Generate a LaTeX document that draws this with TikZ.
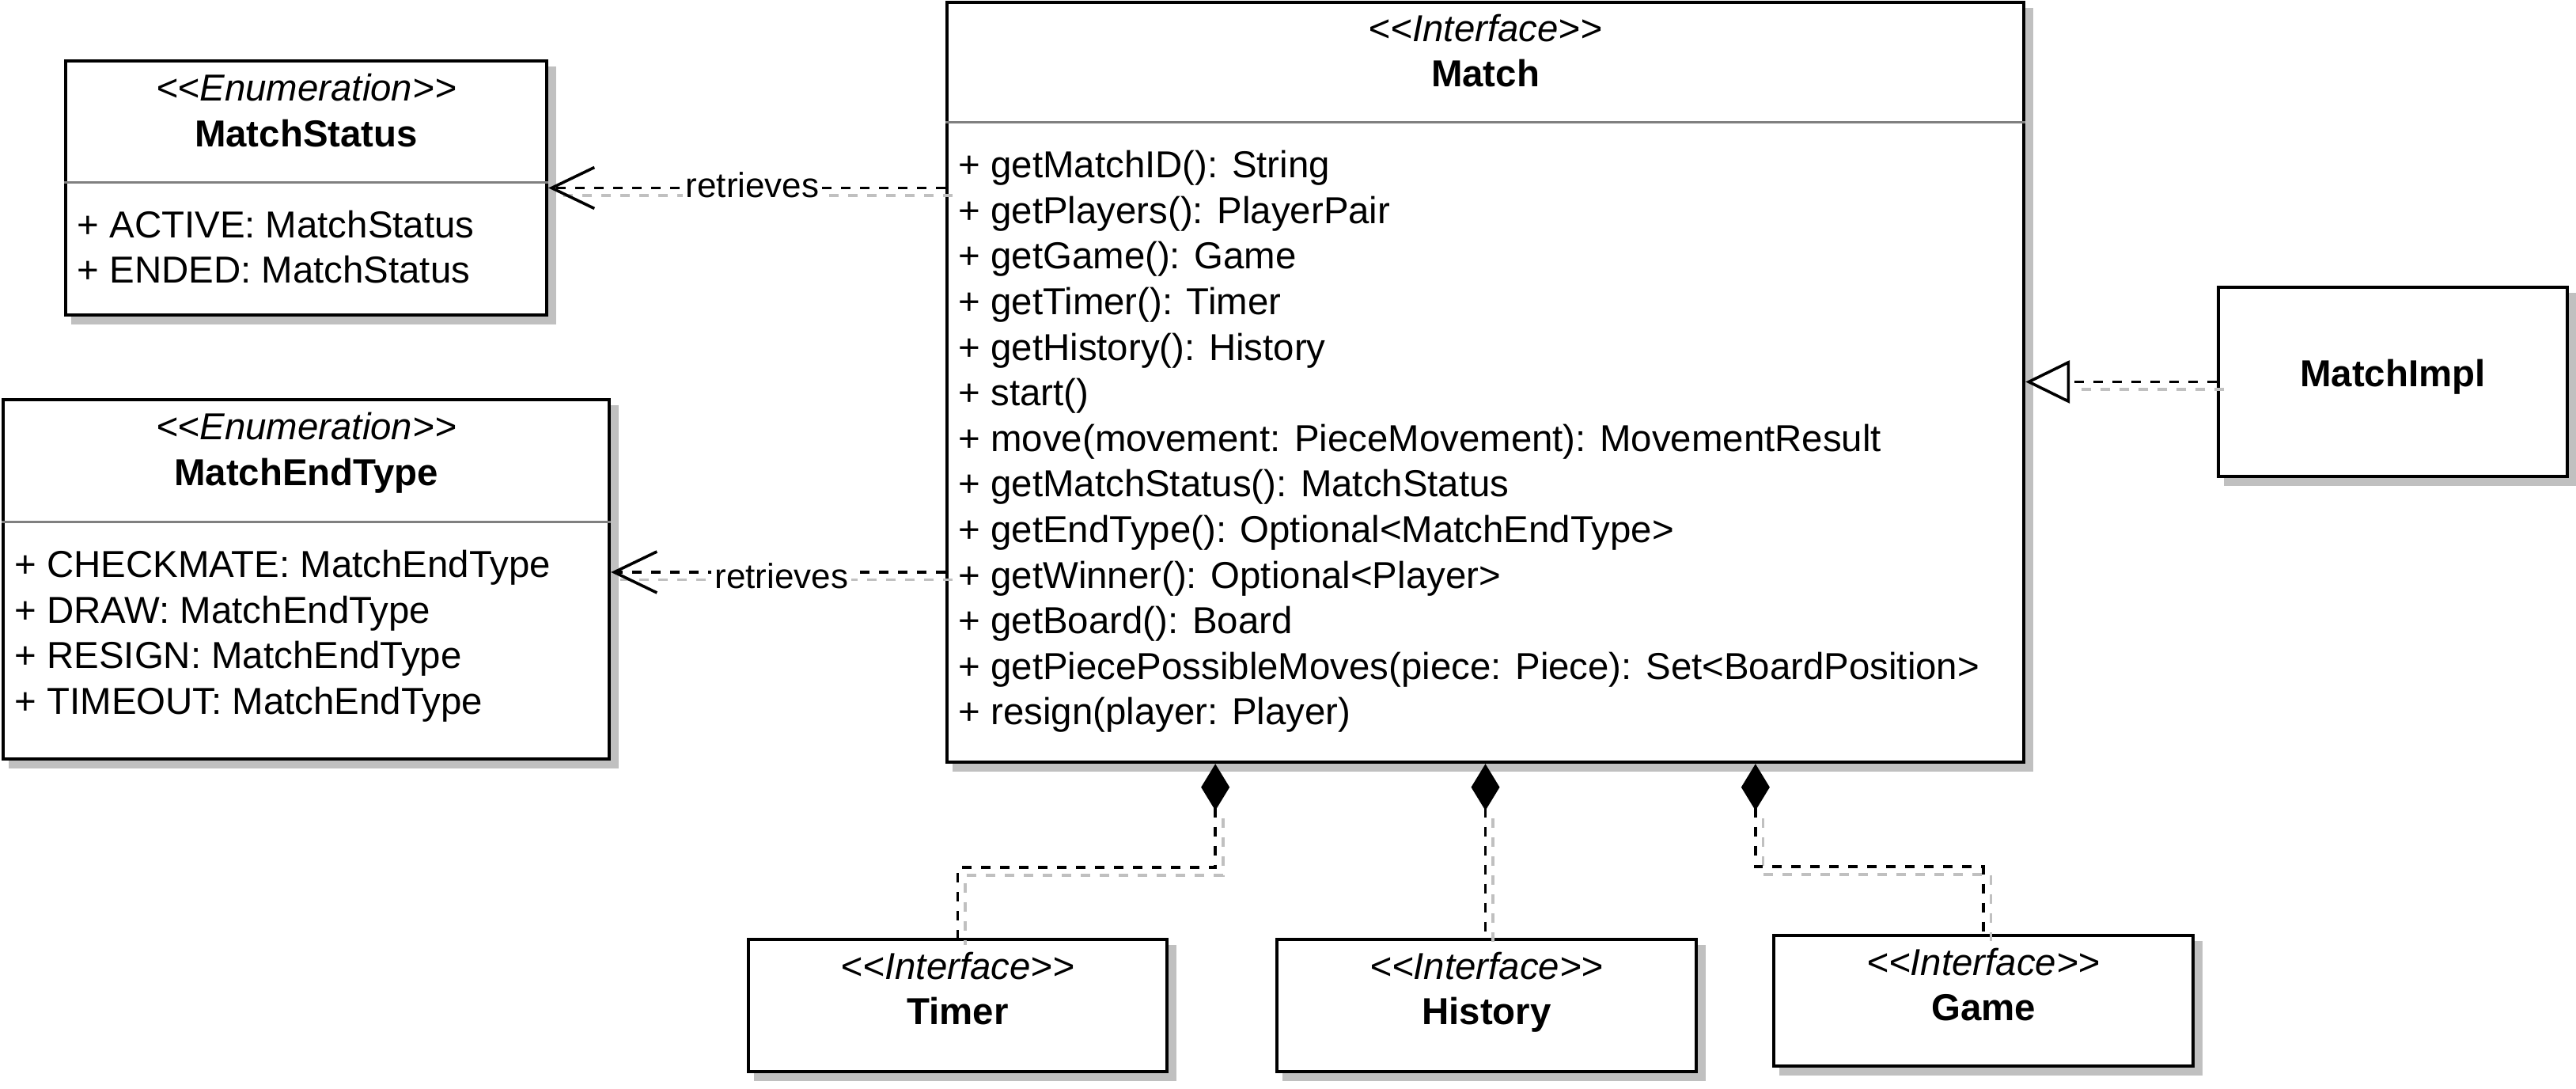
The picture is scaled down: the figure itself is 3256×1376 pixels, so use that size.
\documentclass[tikz,border=0pt]{standalone}
\usepackage{fontspec}
\newfontfamily\umlfont{Liberation Sans}
\usetikzlibrary{arrows.meta,shadows,fit,calc}
\definecolor{shcol}{RGB}{192,192,192}
\definecolor{divcol}{RGB}{128,128,128}
\begin{document}
\begin{tikzpicture}[x=0.25pt,y=-0.25pt,
  box/.style={draw=black, line width=1.1pt, fill=white, inner sep=0pt,
    drop shadow={shadow xshift=2.4pt, shadow yshift=-2.4pt, fill=shcol, draw=shcol, opacity=1}},
  stereo/.style={font=\umlfont\fontsize{11.85}{14}\selectfont\itshape, inner sep=0pt, anchor=base},
  cname/.style={font=\umlfont\fontsize{11.85}{14}\selectfont\bfseries, inner sep=0pt, anchor=base},
  attr/.style={font=\umlfont\fontsize{11.85}{14}\selectfont, inner sep=0pt, anchor=base west},
  divider/.style={draw=divcol, line width=0.85pt},
  conn/.style={line width=0.9pt, dash pattern=on 3pt off 3pt},
  connshadow/.style={conn, draw=shcol, transform canvas={shift={(2.4pt,-2.4pt)}}},
  lbl/.style={font=\umlfont\fontsize{11}{13}\selectfont, fill=white, inner xsep=1pt, inner ysep=1.5pt, anchor=base},
  dep/.style={conn, -{Straight Barb[length=13.5pt, width=13pt]}},
  real/.style={conn, -{Triangle[fill=white, length=14pt, width=13.5pt]}},
  comp/.style={conn, {Diamond[length=14.75pt, width=9pt]}-}
]
\useasboundingbox (0,0) rectangle (3256,1376);

% ---------- boxes ----------
\node[box, fit={(83,77) (691,398)}] (ms) {};
\node[box, fit={(4,505) (770,959)}] (met) {};
\node[box, fit={(1197,3) (2558,963)}] (match) {};
\node[box, fit={(2804,363) (3245,602)}] (impl) {};
\node[box, fit={(946,1187) (1475,1354)}] (timer) {};
\node[box, fit={(1614,1187) (2144,1354)}] (hist) {};
\node[box, fit={(2242,1182) (2772,1347)}] (game) {};

% ---------- dividers ----------
\draw[divider] ($(ms.north west)+(0,156)$) -- ($(ms.north east)+(0,156)$);
\draw[divider] ($(met.north west)+(0,157)$) -- ($(met.north east)+(0,157)$);
\draw[divider] ($(match.north west)+(0,154)$) -- ($(match.north east)+(0,154)$);

% ---------- MatchStatus ----------
\node[stereo] (ms-s) at ($(ms.north)+(0,53)$) {<<Enumeration>>};
\node[cname] (ms-n) at ($(ms.north)+(0,111)$) {MatchStatus};
\node[attr] (ms-a1) at ($(ms.north west)+(16,226)$) {+ ACTIVE: MatchStatus};
\node[attr] (ms-a2) at ($(ms.north west)+(16,283)$) {+ ENDED: MatchStatus};

% ---------- MatchEndType ----------
\node[stereo] (met-s) at ($(met.north)+(0,53)$) {<<Enumeration>>};
\node[cname] (met-n) at ($(met.north)+(0,111)$) {MatchEndType};
\node[attr] (met-a1) at ($(met.north west)+(16,227)$) {+ CHECKMATE: MatchEndType};
\node[attr] (met-a2) at ($(met.north west)+(16,284.6)$) {+ DRAW: MatchEndType};
\node[attr] (met-a3) at ($(met.north west)+(16,342.2)$) {+ RESIGN: MatchEndType};
\node[attr] (met-a4) at ($(met.north west)+(16,399.8)$) {+ TIMEOUT: MatchEndType};

% ---------- Match ----------
\node[stereo] (match-s) at ($(match.north)+(0,52)$) {<<Interface>>};
\node[cname] (match-n) at ($(match.north)+(0,109)$) {Match};
\foreach \t [count=\i from 0] in {
  {+ getMatchID(): String},
  {+ getPlayers(): PlayerPair},
  {+ getGame(): Game},
  {+ getTimer(): Timer},
  {+ getHistory(): History},
  {+ start()},
  {+ move(movement: PieceMovement): MovementResult},
  {+ getMatchStatus(): MatchStatus},
  {+ getEndType(): Optional<MatchEndType>},
  {+ getWinner(): Optional<Player>},
  {+ getBoard(): Board},
  {+ getPiecePossibleMoves(piece: Piece): Set<BoardPosition>},
  {+ resign(player: Player)}}
  \node[attr] (match-a\i) at ($(match.north west)+(16,{224+57.6*\i})$) {\t};

% ---------- MatchImpl ----------
\node[cname] (impl-n) at ($(impl.center)+(0,6)$) {MatchImpl};

% ---------- Timer / History / Game ----------
\node[stereo] (timer-s) at ($(timer.north)+(0,53)$) {<<Interface>>};
\node[cname] (timer-n) at ($(timer.north)+(0,110)$) {Timer};
\node[stereo] (hist-s) at ($(hist.north)+(0,53)$) {<<Interface>>};
\node[cname] (hist-n) at ($(hist.north)+(0,110)$) {History};
\node[stereo] (game-s) at ($(game.north)+(0,53)$) {<<Interface>>};
\node[cname] (game-n) at ($(game.north)+(0,110)$) {Game};

% ---------- connectors ----------
\coordinate (r2) at ($(met.east)+(0,-9)$);
\coordinate (d1) at ($(match.south west)!0.25!(match.south east)$);
\coordinate (d2) at (match.south);
\coordinate (d3) at ($(match.south west)!0.75!(match.south east)$);

% shadows
\draw[connshadow] (match.west |- ms.east) -- (ms.east);
\draw[connshadow] (match.west |- r2) -- (r2);
\draw[connshadow] (impl.west) -- ($(match.east |- impl.west)+(56,0)$);
\draw[connshadow] ($(d1)+(0,59)$) -- ($(d1)+(0,131)$) -| (timer.north);
\draw[connshadow] ($(d2)+(0,59)$) -- (d2 |- hist.north);
\draw[connshadow] ($(d3)+(0,59)$) -- ($(d3)+(0,130)$) -| (game.north);

% lines
\draw[dep] (match.west |- ms.east) -- node[lbl, pos=0.486, yshift=-3.1pt] (lbl1) {retrieves} (ms.east);
\draw[dep] (match.west |- r2) -- node[lbl, pos=0.49, yshift=-5.2pt] (lbl2) {retrieves} (r2);
\draw[real] (impl.west) -- (match.east |- impl.west);
\draw[comp] (d1) -- ($(d1)+(0,131)$) -| (timer.north);
\draw[comp] (d2) -- (d2 |- hist.north);
\draw[comp] (d3) -- ($(d3)+(0,130)$) -| (game.north);
\end{tikzpicture}
\end{document}
